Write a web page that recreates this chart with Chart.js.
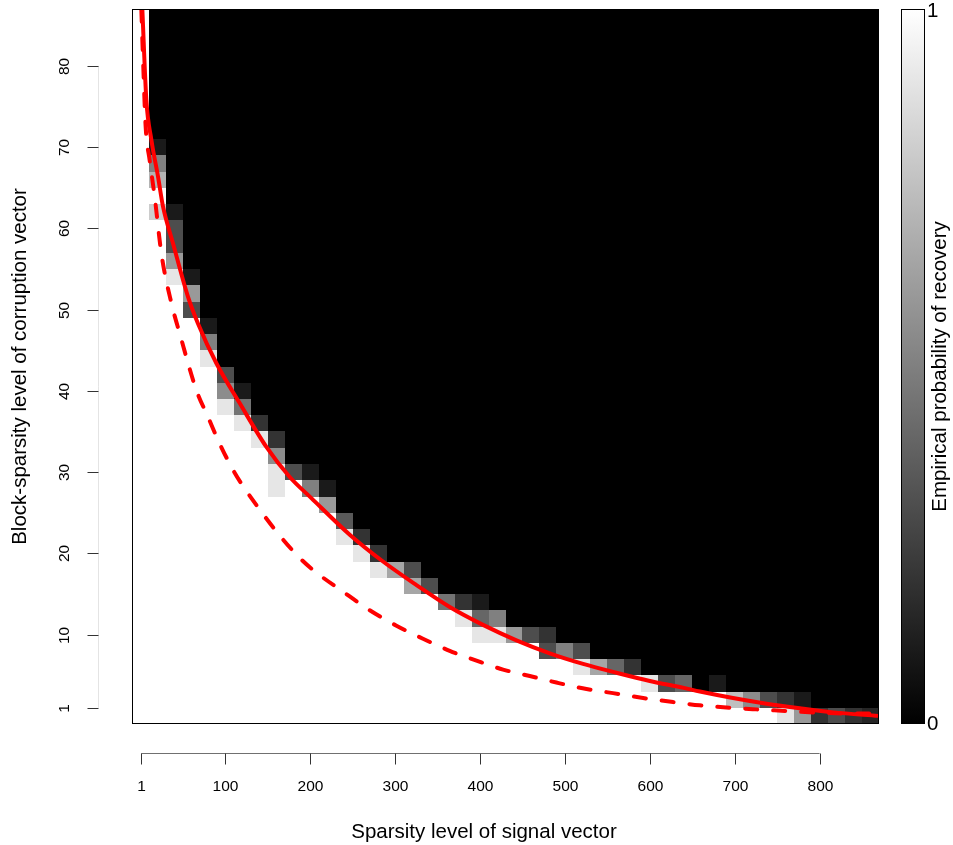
<!DOCTYPE html>
<html>
<head>
<meta charset="utf-8">
<title>Recovery phase transition</title>
<script src="https://cdn.jsdelivr.net/npm/chart.js@4.4.1/dist/chart.umd.min.js"></script>
<style>
  html, body { margin: 0; padding: 0; background: #fff; }
  #wrap { width: 953px; height: 845px; }
</style>
</head>
<body>
<div id="wrap"><canvas id="recovery" width="953" height="845"></canvas></div>
<script>
// cell centres of the simulation grid
var sparsityLevels = [0, 20, 40, 60, 80, 100, 120, 140, 160, 180, 200, 220, 240, 260, 280, 300,
  320, 340, 360, 380, 400, 420, 440, 460, 480, 500, 520, 540, 560, 580, 600, 620, 640, 660,
  680, 700, 720, 740, 760, 780, 800, 820, 840, 860];
var blockLevels = [0, 2, 4, 6, 8, 10, 12, 14, 16, 18, 20, 22, 24, 26, 28, 30, 32, 34, 36, 38,
  40, 42, 44, 46, 48, 50, 52, 54, 56, 58, 60, 62, 64, 66, 68, 70, 72, 74, 76, 78, 80, 82, 84, 86];

var xTicks = [1, 100, 200, 300, 400, 500, 600, 700, 800];
var yTicks = [1, 10, 20, 30, 40, 50, 60, 70, 80];
var barTicks = [0, 1];

// per column: rows (from the bottom) where every run recovered,
// then the measured probabilities going up; everything above failed
var whiteRows = [44, 31, 27, 25, 22, 19, 18, 17, 14, 15, 14, 13, 11, 10, 9, 9, 8, 8, 7, 6, 5, 5,
  5, 5, 4, 4, 3, 3, 3, 3, 2, 2, 2, 2, 2, 1, 1, 1, 0, 0, 0, 0, 0, 0];
var edgeValues = [
  [],
  [0.8, 1, 0.7, 0.5, 0.1],
  [0.9, 0.6, 0.3, 0.3, 0.1],
  [0.3, 0.6, 0.1],
  [0.9, 0.5, 0.1],
  [0.9, 0.55, 0.3],
  [0.9, 0.45, 0.1],
  [0.9, 0.2],
  [0.9, 0.9, 0.55, 0.2],
  [0.3],
  [0.5, 0.1],
  [0.6, 0.1],
  [0.9, 0.35],
  [0.9, 0.2],
  [0.9, 0.2],
  [0.65],
  [0.65, 0.3],
  [0.3],
  [0.45],
  [0.9, 0.2],
  [0.9, 0.4, 0.1],
  [0.9, 0.5],
  [0.6],
  [0.3],
  [0.3, 0.2],
  [0.5],
  [0.9, 0.3],
  [0.65],
  [0.4],
  [0.2],
  [0.9],
  [0.3],
  [0.4],
  [],
  [0.1],
  [0.75],
  [0.55],
  [0.3],
  [0.9, 0.2],
  [0.6, 0.1],
  [0.2],
  [0.3],
  [0.2],
  [0.15]
];

// theoretical recovery bounds
var boundX = [2.2, 6.9, 12.8, 20.6, 26.5, 38.2, 55.9, 67.7, 89.4, 116.8, 148.3, 175.8, 201.3,
  246.5, 285.7, 325.1, 364.3, 403.5, 442.9, 482.1, 521.4, 561, 600, 640, 659, 698, 737.5,
  776.7, 816, 869];
var boundY = [86.9, 75.8, 70.9, 66.4, 62.7, 58.2, 51.6, 48.3, 43.4, 38.5, 33.1, 29.4, 26.8,
  22.3, 19.0, 16.1, 13.4, 11.2, 9.3, 7.7, 6.4, 5.3, 4.3, 3.45, 3.0, 2.2, 1.5, 0.93, 0.43, 0];
var weakX = [1, 2.9, 6.1, 10.8, 16.7, 24.6, 36.4, 46.1, 65.8, 79.5, 93.3, 108.9, 126.6, 187,
  246.5, 270, 301.5, 332.8, 364.3, 395.8, 427.1, 458.6, 490, 525.4, 556.7, 592.1, 627.4,
  658.9, 694.3, 725.7, 761.1, 796.4, 831.8, 866];
var weakY = [86.9, 81.1, 72.5, 68.4, 63.9, 56.9, 50.8, 47.1, 40.1, 36.8, 33.5, 30.3, 27.4, 19.5,
  14.7, 13.0, 11.1, 9.5, 8.0, 6.8, 5.7, 4.9, 4.1, 3.3, 2.8, 2.2, 1.7, 1.3, 1.0, 0.8, 0.6, 0.4,
  0.3, 0.3];

function toPoints(xs, ys) {
  return xs.map(function (v, i) { return { x: v, y: ys[i] }; });
}

function cellValue(col, row) {
  var k = row - whiteRows[col];
  if (k < 0) return 1;
  if (k < edgeValues[col].length) return edgeValues[col][k];
  return 0;
}

var FONT = '"Liberation Sans", Arial, Helvetica, sans-serif';

var heatmap = {
  id: 'heatmap',
  beforeDatasetsDraw: function (chart) {
    var ctx = chart.ctx, xs = chart.scales.x, ys = chart.scales.y;
    ctx.save();
    sparsityLevels.forEach(function (sx, i) {
      var x0 = Math.round(xs.getPixelForValue(sx - 10));
      var x1 = Math.round(xs.getPixelForValue(sx + 10));
      blockLevels.forEach(function (by, j) {
        var y0 = Math.round(ys.getPixelForValue(by + 1));
        var y1 = Math.round(ys.getPixelForValue(by - 1));
        var g = Math.round(cellValue(i, j) * 255);
        ctx.fillStyle = 'rgb(' + g + ',' + g + ',' + g + ')';
        ctx.fillRect(x0, y0, x1 - x0, y1 - y0);
      });
    });
    ctx.restore();
  }
};

var frame = {
  id: 'frame',
  afterDraw: function (chart) {
    var ctx = chart.ctx, a = chart.chartArea;
    var xs = chart.scales.x, ys = chart.scales.y;
    ctx.save();

    // plot box
    ctx.strokeStyle = '#000';
    ctx.lineWidth = 1;
    ctx.strokeRect(a.left + 0.5, a.top + 0.5, a.right - a.left - 1, a.bottom - a.top - 1);

    // x axis, set below the box
    var axisY = 753.5;
    var xa = xs.getPixelForValue(xTicks[0]), xb = xs.getPixelForValue(xTicks[xTicks.length - 1]);
    ctx.strokeStyle = '#707070';
    ctx.beginPath();
    ctx.moveTo(xa, axisY);
    ctx.lineTo(xb, axisY);
    ctx.stroke();
    ctx.strokeStyle = '#333';
    ctx.fillStyle = '#000';
    ctx.font = '15.5px ' + FONT;
    ctx.textAlign = 'center';
    ctx.textBaseline = 'middle';
    xTicks.forEach(function (t) {
      var px = Math.round(xs.getPixelForValue(t)) + 0.5;
      ctx.beginPath();
      ctx.moveTo(px, axisY);
      ctx.lineTo(px, axisY + 11);
      ctx.stroke();
      ctx.fillText(String(t), px, 787);
    });

    // y axis, set left of the box
    var axisX = 98.5;
    ctx.strokeStyle = '#e4e4e4';
    ctx.beginPath();
    ctx.moveTo(axisX, ys.getPixelForValue(yTicks[0]));
    ctx.lineTo(axisX, ys.getPixelForValue(yTicks[yTicks.length - 1]));
    ctx.stroke();
    ctx.strokeStyle = '#333';
    yTicks.forEach(function (t) {
      var py = Math.round(ys.getPixelForValue(t)) + 0.5;
      ctx.beginPath();
      ctx.moveTo(axisX, py);
      ctx.lineTo(axisX - 11, py);
      ctx.stroke();
      ctx.save();
      ctx.translate(65, py);
      ctx.rotate(-Math.PI / 2);
      ctx.fillText(String(t), 0, 0);
      ctx.restore();
    });

    // axis titles
    ctx.font = '20.5px ' + FONT;
    ctx.fillText('Sparsity level of signal vector', 484, 832);
    ctx.save();
    ctx.translate(20, (a.top + a.bottom) / 2);
    ctx.rotate(-Math.PI / 2);
    ctx.fillText('Block-sparsity level of corruption vector', 0, 0);
    ctx.restore();

    // colour bar
    var cbLeft = 901, cbWidth = 23;
    var grad = ctx.createLinearGradient(0, a.bottom, 0, a.top);
    grad.addColorStop(0, '#000');
    grad.addColorStop(1, '#fff');
    ctx.fillStyle = grad;
    ctx.fillRect(cbLeft, a.top, cbWidth, a.bottom - a.top);
    ctx.strokeStyle = '#000';
    ctx.strokeRect(cbLeft + 0.5, a.top + 0.5, cbWidth, a.bottom - a.top - 1);
    ctx.fillStyle = '#000';
    ctx.textAlign = 'left';
    barTicks.forEach(function (t) {
      var py = a.bottom - t * (a.bottom - a.top);
      ctx.fillText(String(t), 927, t === 1 ? py + 2 : py);
    });
    ctx.textAlign = 'center';
    ctx.save();
    ctx.translate(940, (a.top + a.bottom) / 2);
    ctx.rotate(-Math.PI / 2);
    ctx.fillText('Empirical probability of recovery', 0, 0);
    ctx.restore();

    ctx.restore();
  }
};

var config = {
  type: 'scatter',
  data: {
    datasets: [{
      label: 'bound',
      data: toPoints(boundX, boundY),
      showLine: true,
      borderColor: '#ff0000',
      borderWidth: 4,
      pointRadius: 0,
      cubicInterpolationMode: 'monotone'
    }, {
      label: 'weak bound',
      data: toPoints(weakX, weakY),
      showLine: true,
      borderColor: '#ff0000',
      borderWidth: 4,
      borderDash: [12, 16],
      borderCapStyle: 'round',
      pointRadius: 0,
      cubicInterpolationMode: 'monotone'
    }]
  },
  options: {
    responsive: false,
    devicePixelRatio: 1,
    animation: false,
    layout: { padding: { left: 132, top: 9, right: 74, bottom: 121 } },
    scales: {
      x: { type: 'linear', min: -10, max: 870, display: false },
      y: { type: 'linear', min: -1, max: 87, display: false }
    },
    plugins: {
      legend: { display: false },
      tooltip: { enabled: false }
    }
  },
  plugins: [heatmap, frame]
};

new Chart(document.getElementById('recovery').getContext('2d'), config);
</script>
</body>
</html>
